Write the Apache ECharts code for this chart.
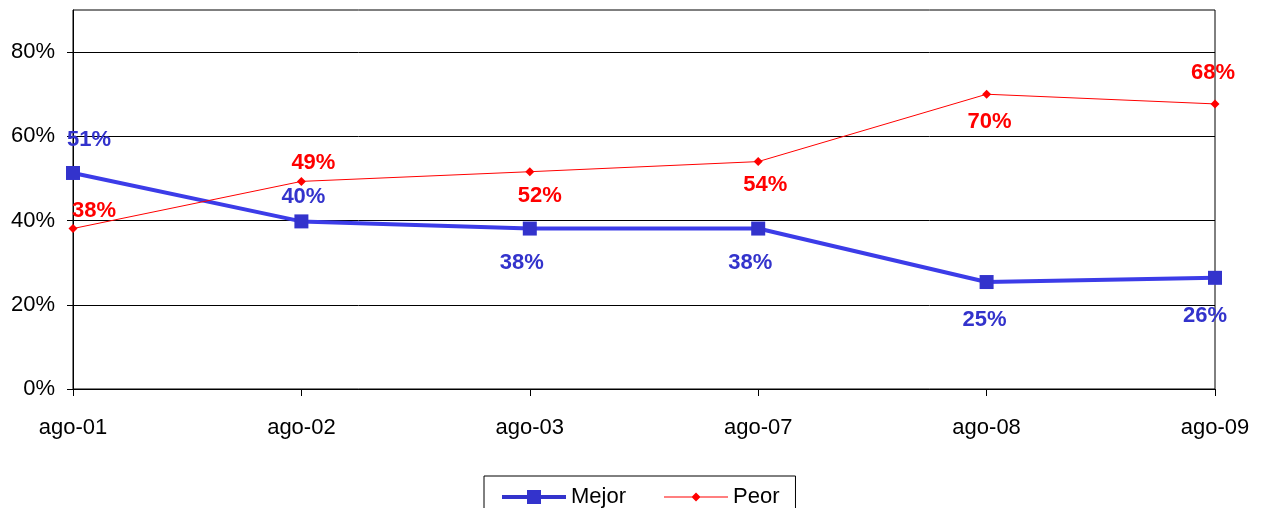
<!DOCTYPE html>
<html>
<head>
<meta charset="utf-8">
<script src="https://cdn.jsdelivr.net/npm/echarts@6/dist/echarts.min.js"></script>
<style>
    html, body { margin: 0; padding: 0; background: #fff; }
    #chart { width: 1263px; height: 508px; }
</style>
</head>
<body>
<div id="chart"></div>
<script>
var categories = ['ago-01', 'ago-02', 'ago-03', 'ago-07', 'ago-08', 'ago-09'];
var mejor = [51.3, 39.8, 38.1, 38.1, 25.4, 26.4];
var peor = [38.1, 49.3, 51.6, 54.0, 70.0, 67.7];
var yTicks = [0, 20, 40, 60, 80];

// label offsets (dx, dy) from each point
var mejorLabelOffset = [[16, -33], [2, -24], [-8, 34], [-8, 34], [-2, 38], [-10, 38]];
var peorLabelOffset = [[21, -18], [12, -18], [10, 24], [7, 23], [3, 28], [-2, -31]];

var FONT = 'Liberation Sans, Arial, sans-serif';

// legend icons: line + marker, like the original legend
var ICON_MEJOR = 'path://M0,5 L64,5 L64,9 L0,9 Z M25,0 L39,0 L39,14 L25,14 Z';
var ICON_PEOR = 'path://M0,4 L28,4 L32,0 L36,4 L64,4 L64,5 L36,5 L32,9 L28,5 L0,5 Z';

var buildData = function (values, offsets) {
    return values.map(function (v, i) {
        return { value: v, label: { offset: offsets[i] } };
    });
};

var pctLabel = function (p) {
    return Math.round(p.value) + '%';
};

var chart = echarts.init(document.getElementById('chart'));

var option = {
    animation: false,
    textStyle: { fontFamily: FONT },
    grid: {
        left: 73,
        right: 48,
        top: 10,
        bottom: 119,
        show: true,
        borderColor: '#000',
        borderWidth: 1
    },
    legend: {
        left: 484,
        top: 476,
        padding: [10, 16, 10, 18],
        itemGap: 38,
        itemWidth: 64,
        itemHeight: 14,
        borderColor: '#000',
        borderWidth: 1,
        textStyle: { fontSize: 22, color: '#000', fontFamily: FONT },
        data: [
            { name: 'Mejor', icon: ICON_MEJOR },
            { name: 'Peor', icon: ICON_PEOR }
        ]
    },
    xAxis: {
        type: 'category',
        boundaryGap: false,
        data: categories,
        axisLine: { lineStyle: { color: '#000', width: 1 } },
        axisTick: { length: 7, lineStyle: { color: '#000' } },
        axisLabel: { color: '#000', fontSize: 22, margin: 28, fontFamily: FONT }
    },
    yAxis: {
        type: 'value',
        min: 0,
        max: 90,
        interval: 10,
        axisLine: { show: true, lineStyle: { color: '#000', width: 1 } },
        axisTick: { show: true, length: 6, customValues: yTicks, lineStyle: { color: '#000' } },
        axisLabel: {
            color: '#000',
            fontSize: 22,
            margin: 18,
            fontFamily: FONT,
            customValues: yTicks,
            formatter: '{value}%'
        },
        splitLine: { show: true, lineStyle: { color: '#000', width: 1 } }
    },
    series: [
        {
            name: 'Mejor',
            type: 'line',
            data: buildData(mejor, mejorLabelOffset),
            symbol: 'rect',
            symbolSize: 14,
            lineStyle: { color: '#3c3ce8', width: 4 },
            itemStyle: { color: '#3333cc' },
            label: {
                show: true,
                position: 'inside',
                color: '#3333cc',
                fontSize: 22,
                fontWeight: 'bold',
                fontFamily: FONT,
                formatter: pctLabel
            },
            z: 3
        },
        {
            name: 'Peor',
            type: 'line',
            data: buildData(peor, peorLabelOffset),
            symbol: 'diamond',
            symbolSize: 9,
            lineStyle: { color: '#ff0000', width: 1 },
            itemStyle: { color: '#ff0000' },
            label: {
                show: true,
                position: 'inside',
                color: '#ff0000',
                fontSize: 22,
                fontWeight: 'bold',
                fontFamily: FONT,
                formatter: pctLabel
            },
            z: 4
        }
    ]
};

chart.setOption(option);
</script>
</body>
</html>
